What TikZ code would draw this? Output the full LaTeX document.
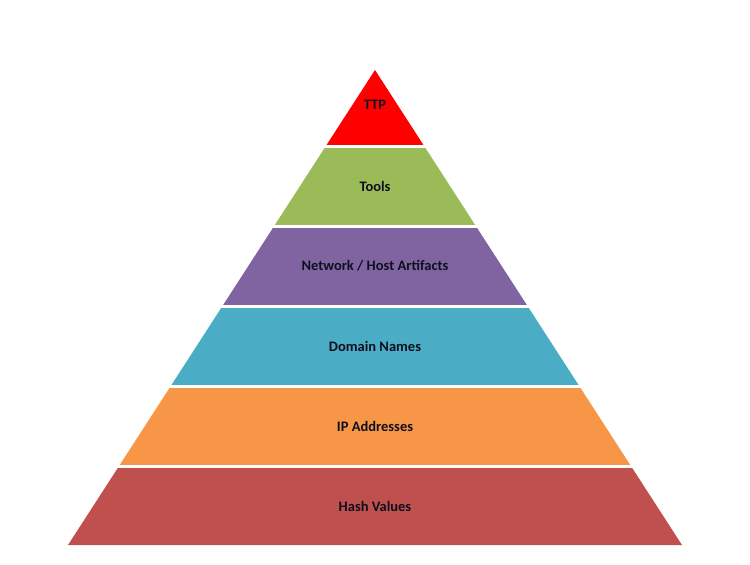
\documentclass[tikz,border=0pt]{standalone}
\usepackage{fontspec}
\setmainfont{Carlito}
\definecolor{ttpred}{HTML}{FF0000}
\definecolor{toolgreen}{HTML}{9BBB59}
\definecolor{netpurple}{HTML}{8064A2}
\definecolor{domteal}{HTML}{4BACC6}
\definecolor{iporange}{HTML}{F79646}
\definecolor{hashred}{HTML}{C0504D}
\definecolor{labelink}{HTML}{0F0F1E}
\begin{document}
\begin{tikzpicture}[x=1pt,y=-1pt,
	label/.style={font=\bfseries\fontsize{14.5}{17}\selectfont,text=labelink,inner sep=0},
	gap/.style={draw=white,line width=2.6pt,shorten <=-3pt,shorten >=-3pt}]
	\useasboundingbox (0,0) rectangle (750,565);
	\coordinate (apex) at (375,70);
	\coordinate (l1) at (325.56,146.5);
	\coordinate (r1) at (424.44,146.5);
	\coordinate (l2) at (273.85,226.5);
	\coordinate (r2) at (476.15,226.5);
	\coordinate (l3) at (222.15,306.5);
	\coordinate (r3) at (527.85,306.5);
	\coordinate (l4) at (170.32,386.7);
	\coordinate (r4) at (579.68,386.7);
	\coordinate (l5) at (118.74,466.5);
	\coordinate (r5) at (631.26,466.5);
	\coordinate (l6) at (68,545);
	\coordinate (r6) at (682,545);
	% layers, top to bottom
	\fill[ttpred] (apex) -- (l1) -- (r1) -- cycle;
	\fill[toolgreen] (l1) -- (l2) -- (r2) -- (r1) -- cycle;
	\fill[netpurple] (l2) -- (l3) -- (r3) -- (r2) -- cycle;
	\fill[domteal] (l3) -- (l4) -- (r4) -- (r3) -- cycle;
	\fill[iporange] (l4) -- (l5) -- (r5) -- (r4) -- cycle;
	\fill[hashred] (l5) -- (l6) -- (r6) -- (r5) -- cycle;
	% white gaps
	\draw[gap] (l1) -- (r1);
	\draw[gap] (l2) -- (r2);
	\draw[gap] (l3) -- (r3);
	\draw[gap] (l4) -- (r4);
	\draw[gap] (l5) -- (r5);
	% labels
	\node[label] (ttp) at (375,105) {TTP};
	\node[label] (tools) at (375,186) {Tools};
	\node[label] (artifacts) at (375,266) {Network / Host Artifacts};
	\node[label] (domains) at (375,346.5) {Domain Names};
	\node[label] (ips) at (375,426) {IP Addresses};
	\node[label] (hashes) at (375,506) {Hash Values};
\end{tikzpicture}
\end{document}
